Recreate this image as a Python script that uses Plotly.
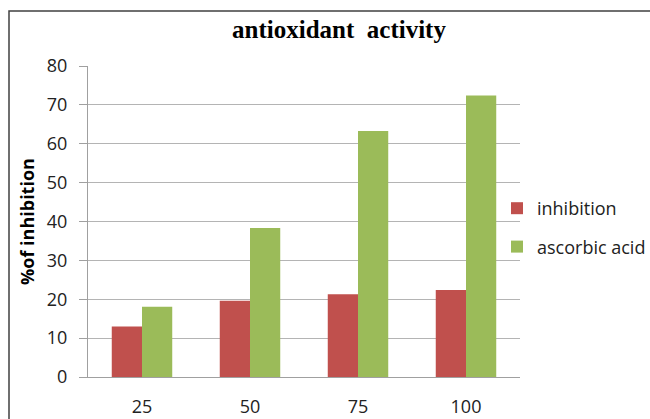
import plotly.graph_objects as go

categories = ["25", "50", "75", "100"]
inhibition = [13.0, 19.6, 21.3, 22.4]
ascorbic_acid = [18.1, 38.3, 63.3, 72.4]

W, H = 650, 419
L, T = 88, 66
R = W - 520
B = H - 377
pw, ph = W - L - R, H - T - B

def px_x(p):
    return (p - L) / pw

def px_y(p):
    return (H - B - p) / ph

fig = go.Figure()
fig.add_trace(go.Bar(x=categories, y=inhibition, name="inhibition",
                     marker=dict(color="#C0504D", line=dict(width=0)),
                     legendgroup="a"))
fig.add_trace(go.Bar(x=categories, y=ascorbic_acid, name="ascorbic acid",
                     marker=dict(color="#9BBB59", line=dict(width=0)),
                     legendgroup="b"))

fig.update_layout(
    width=W, height=H,
    margin=dict(l=L, r=R, t=T, b=B, autoexpand=False),
    paper_bgcolor="white", plot_bgcolor="white",
    barmode="group", bargap=0.44, bargroupgap=0,
    title=dict(text="<b>antioxidant  activity</b>", x=px_x(339), xref="paper", xanchor="center",
               y=1 - 29 / H, yanchor="middle",
               font=dict(family="Liberation Serif", size=25, color="black")),
    font=dict(family="Open Sans", color="#222"),
    xaxis=dict(showgrid=False, showline=True, linecolor="#A0A0A0", linewidth=1,
               ticks="", tickfont=dict(size=18, color="#222"), ticklabelstandoff=13,
               automargin=False),
    yaxis=dict(range=[0, 80], dtick=10, showgrid=True, gridcolor="#B4B4B4", gridwidth=1,
               showline=True, linecolor="#A0A0A0", ticks="outside", ticklen=8,
               tickcolor="#A0A0A0", tickfont=dict(size=18, color="#222"),
               ticklabelstandoff=8, zeroline=False, automargin=False,
               title=dict(text="<b>%of inhibition</b>", font=dict(size=18, color="black"),
                          standoff=7)),
    legend=dict(x=px_x(497), xanchor="left", y=px_y(190), yanchor="top",
                font=dict(size=18, color="#222"), traceorder="grouped",
                tracegroupgap=12, itemwidth=30, bgcolor="rgba(0,0,0,0)"),
    shapes=[dict(type="rect", xref="paper", yref="paper",
                 x0=px_x(9), x1=px_x(700), y0=px_y(460), y1=px_y(11),
                 line=dict(color="#404040", width=1.5), fillcolor="rgba(0,0,0,0)",
                 layer="below")],
)

fig.write_html("out.html", config={"displayModeBar": False},
               post_script="document.body.style.margin='0';document.body.style.overflow='hidden';")
